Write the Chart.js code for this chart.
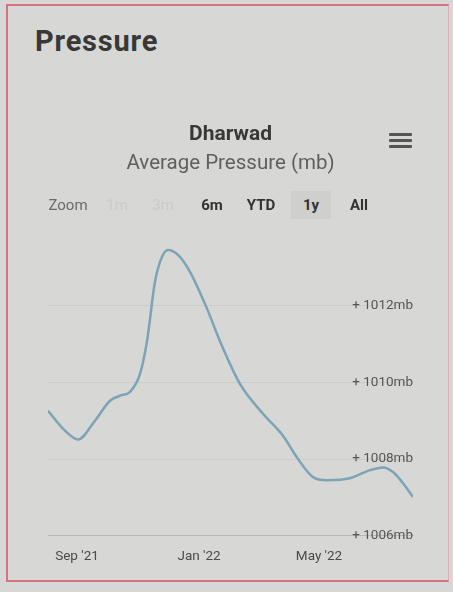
<!DOCTYPE html>
<html>
<head>
<meta charset="utf-8">
<script src="https://cdn.jsdelivr.net/npm/chart.js@4"></script>
<style>
  html, body { margin: 0; padding: 0; }
  body {
    width: 453px; height: 592px; position: relative; overflow: hidden;
    background: #d7d7d5; font-family: Roboto, "Noto Sans", sans-serif;
  }
  .frame {
    position: absolute; left: 6px; top: 4px; width: 440px; height: 574px;
    border: 2px solid #d4727f; border-right: 1px solid #e2aab2;
  }
  h1 {
    position: absolute; left: 35px; top: 24px; margin: 0;
    font-size: 29px; font-weight: 700; color: #383838; letter-spacing: 0.8px;
  }
  #wrap { position: absolute; left: 0; top: 108px; width: 453px; height: 470px; }
  .menu { position: absolute; left: 389px; top: 133px; width: 23px; }
  .menu div { height: 3px; background: #555; margin-bottom: 3px; border-radius: 1px; }
  .rs span {
    position: absolute; top: 196px; font-size: 15px; font-weight: 700;
    color: #333; transform: translateX(-50%); line-height: 18px;
  }
  .rs .lbl { font-weight: 400; color: #6a6a6a; }
  .rs .off { color: #cacaca; font-weight: 400; }
  .rs .sel { background: #cfcfcd; padding: 5px 12px; top: 191px; }
</style>
</head>
<body>
<div class="frame"></div>
<h1>Pressure</h1>
<div id="wrap"><canvas id="chart"></canvas></div>
<div class="menu"><div></div><div></div><div></div></div>
<div class="rs">
  <span class="lbl" style="left:68px">Zoom</span>
  <span class="off" style="left:117px">1m</span>
  <span class="off" style="left:163px">3m</span>
  <span style="left:212px">6m</span>
  <span style="left:261px">YTD</span>
  <span class="sel" style="left:311px">1y</span>
  <span style="left:359px">All</span>
</div>
<script>
// readings (date, average pressure in mb)
const dates = [
  "2021-08-03", "2021-08-20", "2021-09-02", "2021-09-19", "2021-10-04",
  "2021-10-14", "2021-10-24", "2021-11-03", "2021-11-10", "2021-11-18",
  "2021-11-25", "2021-12-01", "2021-12-11", "2021-12-23", "2022-01-09",
  "2022-01-22", "2022-02-11", "2022-03-06", "2022-03-26", "2022-04-09",
  "2022-04-25", "2022-05-09", "2022-06-01", "2022-06-21", "2022-07-04",
  "2022-07-14", "2022-07-24", "2022-08-03"
];
const pressure = [
  1009.26, 1008.74, 1008.51, 1009.0, 1009.52,
  1009.65, 1009.75, 1010.22, 1011.07, 1012.62,
  1013.27, 1013.45, 1013.32, 1012.88, 1011.92,
  1011.07, 1009.96, 1009.18, 1008.61, 1008.04,
  1007.53, 1007.45, 1007.5, 1007.71, 1007.78,
  1007.66, 1007.37, 1007.01
];
const xTickDates = ["2021-09-01", "2022-01-01", "2022-05-01"];
const xTickLabels = ["Sep '21", "Jan '22", "May '22"];
const yTicks = [1006, 1008, 1010, 1012];

const origin = Date.UTC(2021, 8, 1);
function dayOf(s) {
  const p = s.split('-');
  return (Date.UTC(+p[0], +p[1] - 1, +p[2]) - origin) / 86400000;
}

const points = dates.map((d, i) => ({x: dayOf(d), y: pressure[i]}));

new Chart(document.getElementById('chart'), {
  type: 'line',
  data: {
    datasets: [{
      label: 'Dharwad',
      data: points,
      borderColor: '#7ca3b6',
      borderWidth: 2.5,
      pointRadius: 0,
      cubicInterpolationMode: 'monotone',
      fill: false
    }]
  },
  options: {
    responsive: true,
    maintainAspectRatio: false,
    animation: false,
    layout: { padding: { left: 48, right: 40, top: 0, bottom: 0 } },
    plugins: {
      legend: { display: false },
      tooltip: { enabled: false },
      title: {
        display: true, text: 'Dharwad', color: '#383838',
        font: { family: 'Roboto', size: 21, weight: 'bold' },
        padding: { top: 14, bottom: 0 }
      },
      subtitle: {
        display: true, text: 'Average Pressure (mb)', color: '#5f5f5f',
        font: { family: 'Roboto', size: 20.5 },
        padding: { top: 4, bottom: 53 }
      }
    },
    scales: {
      x: {
        type: 'linear',
        min: dayOf("2021-08-03"),
        max: dayOf("2022-08-03"),
        afterBuildTicks: (axis) => { axis.ticks = xTickDates.map(d => ({value: dayOf(d)})); },
        grid: { display: false, drawTicks: false },
        border: { display: true, color: 'rgba(0,0,0,0.10)' },
        ticks: {
          padding: 13, color: '#4a4a4a', maxRotation: 0, autoSkip: false,
          font: { family: 'Roboto', size: 13.5 },
          callback: (v, i) => xTickLabels[i]
        }
      },
      y: {
        position: 'right',
        min: 1006, max: 1014,
        afterBuildTicks: (axis) => { axis.ticks = yTicks.map(v => ({value: v})); },
        grid: { color: 'rgba(0,0,0,0.05)', drawTicks: false },
        border: { display: false },
        ticks: {
          mirror: true, padding: 0, color: '#555',
          font: { family: 'Roboto', size: 13.5 },
          callback: (v) => '+ ' + v + 'mb'
        }
      }
    }
  }
});
</script>
</body>
</html>
